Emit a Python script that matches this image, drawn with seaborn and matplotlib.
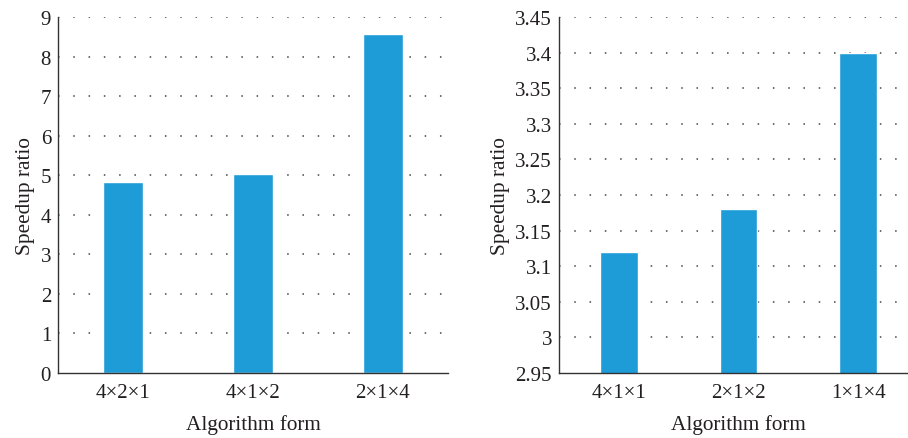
import matplotlib
matplotlib.use("Agg")
import matplotlib.pyplot as plt
import seaborn as sns
import pandas as pd

left_forms = ["4×2×1", "4×1×2", "2×1×4"]
left_speedup = [4.84, 5.02, 8.56]
left_ticks = [0, 1, 2, 3, 4, 5, 6, 7, 8, 9]

right_forms = ["4×1×1", "2×1×2", "1×1×4"]
right_speedup = [3.12, 3.18, 3.40]
right_ticks = [2.95, 3.0, 3.05, 3.1, 3.15, 3.2, 3.25, 3.3, 3.35, 3.4, 3.45]
right_tick_labels = ["2.95", "3", "3.05", "3.1", "3.15", "3.2", "3.25", "3.3", "3.35", "3.4", "3.45"]

sns.set_style("white")
plt.rcParams['font.family'] = ['Liberation Serif', 'DejaVu Serif']

BAR = "#1E9CD7"
TXT = "#231F20"

fig = plt.figure(figsize=(9.08, 4.39), dpi=100)
ax1 = fig.add_axes([58/908, 1-374/439, 390/908, 356/439])
ax2 = fig.add_axes([559/908, 1-374/439, 359/908, 356/439])

def style(ax, ticks, labels, ylim):
    ax.set_ylim(*ylim)
    ax.set_xlim(-0.5, 2.5)
    ax.set_yticks(ticks)
    ax.set_yticklabels(labels)
    for t in ticks[1:]:
        ax.axhline(t, color="#444444", lw=1.1, ls=(0, (1, 9)), zorder=0)
    for s in ["top", "right"]:
        ax.spines[s].set_visible(False)
    for s in ["left", "bottom"]:
        ax.spines[s].set_color("#333333")
        ax.spines[s].set_linewidth(1.0)
    ax.tick_params(axis="both", length=0, labelsize=15, colors=TXT)
    ax.tick_params(axis="x", pad=7)
    ax.tick_params(axis="y", pad=5)
    ax.set_xlabel("Algorithm form", fontsize=15.3, color=TXT, labelpad=9)
    ax.set_ylabel("Speedup ratio", fontsize=15.3, color=TXT, labelpad=4)

df1 = pd.DataFrame({"form": left_forms, "speedup": left_speedup})
df2 = pd.DataFrame({"form": right_forms, "speedup": right_speedup})

sns.barplot(data=df1, x="form", y="speedup", color=BAR, saturation=1, width=0.315, ax=ax1, zorder=2)
sns.barplot(data=df2, x="form", y="speedup", color=BAR, saturation=1, width=0.315, ax=ax2, zorder=2)

style(ax1, left_ticks, [str(t) for t in left_ticks], (0, 9))
style(ax2, right_ticks, right_tick_labels, (2.95, 3.45))

fig.savefig("out.png", dpi=100)
